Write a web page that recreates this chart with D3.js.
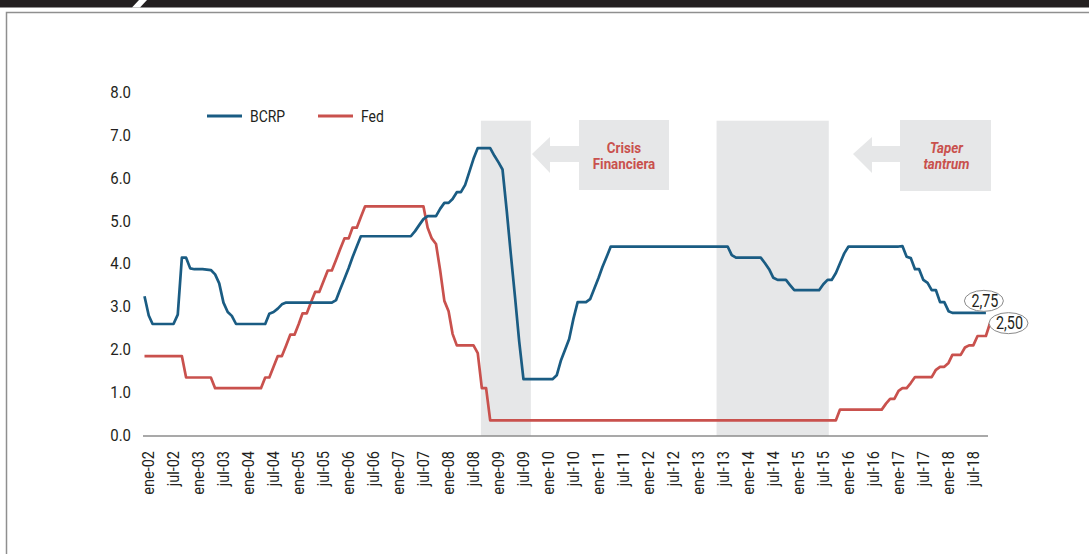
<!DOCTYPE html>
<html><head><meta charset="utf-8">
<script src="https://cdn.jsdelivr.net/npm/d3@7"></script>
<style>
html,body{margin:0;padding:0;background:#fff;}
svg{display:block;}
text{font-family:"Roboto","Liberation Sans",sans-serif;}
</style></head><body><svg id="chart" width="1089" height="554"></svg>
<script>
// ---------- DATA ----------
const startYear = 2002; // monthly series, first point = enero 2002
const seriesNames = ["BCRP", "Fed"];
const bcrp = [
  3.15, 2.7, 2.5, 2.5, 2.5, 2.5, 2.5, 2.5, 2.72, 4.05, 4.05, 3.8,
  3.78, 3.78, 3.78, 3.77, 3.76, 3.66, 3.45, 3.0, 2.78, 2.69, 2.5, 2.5,
  2.5, 2.5, 2.5, 2.5, 2.5, 2.5, 2.74, 2.78, 2.86, 2.96, 3.0, 3.0,
  3.0, 3.0, 3.0, 3.0, 3.0, 3.0, 3.0, 3.0, 3.0, 3.0, 3.06, 3.31,
  3.56, 3.81, 4.06, 4.31, 4.55, 4.55, 4.55, 4.55, 4.55, 4.55, 4.55, 4.55,
  4.55, 4.55, 4.55, 4.55, 4.55, 4.67, 4.81, 4.95, 5.02, 5.02, 5.02, 5.19,
  5.33, 5.33, 5.42, 5.58, 5.58, 5.75, 6.05, 6.36, 6.61, 6.61, 6.61, 6.61,
  6.43, 6.27, 6.11, 5.14, 4.12, 3.11, 2.09, 1.21, 1.21, 1.21, 1.21, 1.21,
  1.21, 1.21, 1.21, 1.3, 1.64, 1.9, 2.15, 2.62, 3.01, 3.01, 3.01, 3.08,
  3.33, 3.58, 3.83, 4.07, 4.31, 4.31, 4.31, 4.31, 4.31, 4.31, 4.31, 4.31,
  4.31, 4.31, 4.31, 4.31, 4.31, 4.31, 4.31, 4.31, 4.31, 4.31, 4.31, 4.31,
  4.31, 4.31, 4.31, 4.31, 4.31, 4.31, 4.31, 4.31, 4.31, 4.11, 4.05, 4.05,
  4.05, 4.05, 4.05, 4.05, 4.05, 3.92, 3.78, 3.58, 3.53, 3.53, 3.53, 3.41,
  3.29, 3.29, 3.29, 3.29, 3.29, 3.29, 3.29, 3.43, 3.53, 3.53, 3.69, 3.92,
  4.15, 4.31, 4.31, 4.31, 4.31, 4.31, 4.31, 4.31, 4.31, 4.31, 4.31, 4.31,
  4.31, 4.31, 4.32, 4.07, 4.04, 3.78, 3.78, 3.53, 3.46, 3.29, 3.29, 3.01,
  3.01, 2.8, 2.76, 2.76, 2.76, 2.76, 2.76, 2.76, 2.76, 2.76, 2.76
];
const fed = [
  1.75, 1.75, 1.75, 1.75, 1.75, 1.75, 1.75, 1.75, 1.75, 1.75, 1.25, 1.25,
  1.25, 1.25, 1.25, 1.25, 1.25, 1.0, 1.0, 1.0, 1.0, 1.0, 1.0, 1.0,
  1.0, 1.0, 1.0, 1.0, 1.0, 1.25, 1.25, 1.5, 1.75, 1.75, 2.0, 2.25,
  2.25, 2.5, 2.75, 2.75, 3.0, 3.25, 3.25, 3.5, 3.75, 3.75, 4.0, 4.25,
  4.5, 4.5, 4.75, 4.75, 5.0, 5.25, 5.25, 5.25, 5.25, 5.25, 5.25, 5.25,
  5.25, 5.25, 5.25, 5.25, 5.25, 5.25, 5.25, 5.25, 4.75, 4.5, 4.37, 3.76,
  3.04, 2.8, 2.27, 2.0, 2.0, 2.0, 2.0, 2.0, 1.82, 1.0, 1.0, 0.25,
  0.25, 0.25, 0.25, 0.25, 0.25, 0.25, 0.25, 0.25, 0.25, 0.25, 0.25, 0.25,
  0.25, 0.25, 0.25, 0.25, 0.25, 0.25, 0.25, 0.25, 0.25, 0.25, 0.25, 0.25,
  0.25, 0.25, 0.25, 0.25, 0.25, 0.25, 0.25, 0.25, 0.25, 0.25, 0.25, 0.25,
  0.25, 0.25, 0.25, 0.25, 0.25, 0.25, 0.25, 0.25, 0.25, 0.25, 0.25, 0.25,
  0.25, 0.25, 0.25, 0.25, 0.25, 0.25, 0.25, 0.25, 0.25, 0.25, 0.25, 0.25,
  0.25, 0.25, 0.25, 0.25, 0.25, 0.25, 0.25, 0.25, 0.25, 0.25, 0.25, 0.25,
  0.25, 0.25, 0.25, 0.25, 0.25, 0.25, 0.25, 0.25, 0.25, 0.25, 0.25, 0.5,
  0.5, 0.5, 0.5, 0.5, 0.5, 0.5, 0.5, 0.5, 0.5, 0.5, 0.64, 0.75,
  0.75, 0.94, 1.0, 1.0, 1.12, 1.26, 1.26, 1.26, 1.26, 1.26, 1.43, 1.5,
  1.5, 1.59, 1.78, 1.78, 1.78, 1.95, 2.0, 2.0, 2.22, 2.22, 2.22, 2.52
];
const yTicks = [0, 1, 2, 3, 4, 5, 6, 7, 8];
const xTickLabels = [
  "ene-02","jul-02","ene-03","jul-03","ene-04","jul-04","ene-05","jul-05",
  "ene-06","jul-06","ene-07","jul-07","ene-08","jul-08","ene-09","jul-09",
  "ene-10","jul-10","ene-11","jul-11","ene-12","jul-12","ene-13","jul-13",
  "ene-14","jul-14","ene-15","jul-15","ene-16","jul-16","ene-17","jul-17",
  "ene-18","jul-18"
];
const bandStarts = ["2008-09-24", "2013-06-12"];
const bandEnds = ["2009-09-24", "2015-09-10"];
const bandTop = 7.25;
const bandLabels = [["Crisis", "Financiera"], ["Taper", "tantrum"]];
const endLabels = ["2,75", "2,50"];

// ---------- STYLE ----------
const W = 1089, H = 554;
const colors = {BCRP: "#1a5c83", Fed: "#c9514d"};
const ink = "#231f20";
const grey = "#e6e7e8";

// emulate the condensed typeface of the original
function condense(sel, f) {
  sel.each(function () {
    const w = this.getComputedTextLength();
    d3.select(this).attr("textLength", w * f).attr("lengthAdjust", "spacingAndGlyphs");
  });
}

const svg = d3.select("#chart");
svg.append("rect").attr("width", W).attr("height", H).attr("fill", "#fff");

// top bar + frame
svg.append("rect").attr("x", 0).attr("y", 0).attr("width", W).attr("height", 7.5).attr("fill", ink);
svg.append("polygon").attr("points", "139,0 147,0 140,7.5 132,7.5").attr("fill", "#fff");
svg.append("path").attr("d", `M6.5,${H} V12.5 H${W}`).attr("fill", "none")
  .attr("stroke", "#8f8f8f").attr("stroke-width", 1.5);

// scales
const monthDate = i => new Date(Date.UTC(startYear, i, 1));
const x = d3.scaleUtc().domain([monthDate(0), monthDate(203)]).range([144.5, 990]);
const y = d3.scaleLinear().domain([0, 8]).range([431, 88.6]);
const axisY = y(0) + 5;

// shaded bands
const bands = bandStarts.map((s, i) => ({s: new Date(s + "T00:00:00Z"), e: new Date(bandEnds[i] + "T00:00:00Z")}));
svg.append("g").selectAll("rect").data(bands).join("rect")
  .attr("x", d => x(d.s)).attr("width", d => x(d.e) - x(d.s))
  .attr("y", y(bandTop)).attr("height", axisY - y(bandTop))
  .attr("fill", grey);

// annotation boxes with arrows
const boxes = [
  {bx: 579, by: 120, bw: 90, bh: 70, tip: 532, neck: 550, italic: false},
  {bx: 900, by: 120, bw: 91, bh: 71, tip: 853, neck: 872, italic: true}
];
boxes.forEach((b, i) => {
  const g = svg.append("g");
  const cy = 154;
  g.append("polygon").attr("points", [
    [b.tip, cy], [b.neck, cy - 17], [b.neck, cy - 8], [b.bx + 1, cy - 8],
    [b.bx + 1, cy + 8], [b.neck, cy + 8], [b.neck, cy + 19]
  ].map(p => p.join(",")).join(" ")).attr("fill", grey);
  g.append("rect").attr("x", b.bx).attr("y", b.by).attr("width", b.bw).attr("height", b.bh).attr("fill", grey);
  bandLabels[i].forEach((t, j) => {
    g.append("text").attr("x", b.bx + b.bw / 2 + (b.italic ? 1 : 0)).attr("y", 147 + j * 16).attr("dy", "0.36em")
      .attr("text-anchor", "middle").attr("font-size", 15.5).attr("font-weight", "bold")
      .attr("font-style", b.italic ? "italic" : "normal").attr("fill", colors.Fed).text(t)
      .call(condense, 0.86);
  });
});

// y axis
const gy = svg.append("g").attr("transform", "translate(143,0)")
  .call(d3.axisLeft(y).tickValues(yTicks).tickSize(0).tickPadding(12).tickFormat(d3.format(".1f")));
gy.select(".domain").remove();
gy.attr("font-family", null).attr("font-size", null);
gy.selectAll("text").attr("font-size", 17).attr("fill", ink).attr("dy", "0.54em")
  .call(condense, 0.88);

// x axis
const parseLbl = s => {
  const [m, yy] = s.split("-");
  return new Date(Date.UTC(2000 + (+yy), m === "ene" ? 0 : 6, 1));
};
const xTickDates = xTickLabels.map(parseLbl);
const gx = svg.append("g").attr("transform", `translate(0,${axisY})`)
  .call(d3.axisBottom(x).tickValues(xTickDates).tickSize(0).tickSizeOuter(0)
    .tickFormat((d, i) => xTickLabels[i]));
gx.attr("font-family", null).attr("font-size", null);
gx.select(".domain").attr("stroke", "#8c8c8c").attr("stroke-width", 1.5)
  .attr("d", `M143,0H988`);
gx.selectAll("text").attr("font-size", 16.5).attr("fill", ink)
  .attr("transform", "rotate(-90)").attr("x", -15).attr("y", 0).attr("dy", "0.55em")
  .attr("text-anchor", "end")
  .call(condense, 0.88);

// lines
const line = d3.line().x((d, i) => x(monthDate(i))).y(d => y(d)).curve(d3.curveLinear);
const series = [{name: "Fed", values: fed}, {name: "BCRP", values: bcrp}];
svg.append("g").selectAll("path").data(series).join("path")
  .attr("d", d => line(d.values)).attr("fill", "none")
  .attr("stroke", d => colors[d.name]).attr("stroke-width", 2.7)
  .attr("stroke-linejoin", "round").attr("stroke-linecap", "butt");

// legend
const leg = svg.append("g");
seriesNames.forEach((n, i) => {
  const lx = 207 + i * 111;
  leg.append("line").attr("x1", lx).attr("x2", lx + 35).attr("y1", 116).attr("y2", 116)
    .attr("stroke", colors[n]).attr("stroke-width", 3);
  leg.append("text").attr("x", lx + 43).attr("y", 116).attr("dy", "0.36em")
    .attr("font-size", 17).attr("fill", ink).text(n)
    .call(condense, 0.82);
});

// end labels
const ends = [
  {v: bcrp[bcrp.length - 1], i: bcrp.length - 1, dx: -2, dy: -12, t: endLabels[0]},
  {v: fed[fed.length - 1], i: fed.length - 1, dx: 18.5, dy: 0, t: endLabels[1]}
];
ends.forEach(e => {
  const cx = x(monthDate(e.i)) + e.dx, cy = y(e.v) + e.dy;
  svg.append("ellipse").attr("cx", cx).attr("cy", cy).attr("rx", 19.5).attr("ry", 10.5)
    .attr("fill", "#fff").attr("stroke", "#8a8a8a").attr("stroke-width", 1);
  svg.append("text").attr("x", cx + 1).attr("y", cy).attr("dy", "0.36em").attr("text-anchor", "middle")
    .attr("font-size", 17.5).attr("fill", ink).text(e.t)
    .call(condense, 0.82);
});
</script></body></html>
